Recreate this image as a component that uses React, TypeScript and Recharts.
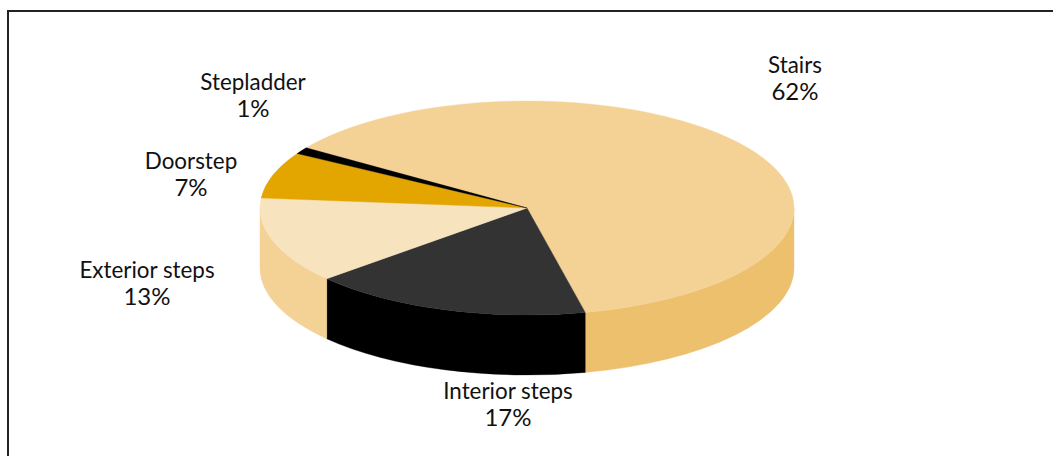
import { PieChart, Pie, Cell } from 'recharts';

const categories = ['Stairs', 'Interior steps', 'Exterior steps', 'Doorstep', 'Stepladder'];
const shares = [62, 17, 13, 7, 1];
const topColors = ['#f4d295', '#333333', '#f8e3bf', '#e3a500', '#000000'];
const sideColors = ['#edc06e', '#000000', '#f4d295', '#c48e00', '#000000'];

const data = categories.map((name, i) => ({ name, value: shares[i] }));

// label centres, the chart library has no placement that gives these
const labelSpots = [
  [795, 65],
  [508, 391],
  [147, 270],
  [191, 161],
  [253, 82],
];

const TILT = 107 / 267;
const DEPTH = 60;
const FONT = 'Lato, sans-serif';

const pt = (cx: number, cy: number, r: number, deg: number) => {
  const a = (deg * Math.PI) / 180;
  return [cx + r * Math.cos(a), cy - r * TILT * Math.sin(a)];
};

function TopSlice(props: any) {
  const { cx, cy, outerRadius: r, startAngle, endAngle, fill } = props;
  const [x1, y1] = pt(cx, cy, r, startAngle);
  const [x2, y2] = pt(cx, cy, r, endAngle);
  const large = Math.abs(startAngle - endAngle) > 180 ? 1 : 0;
  const d = `M${cx},${cy}L${x1},${y1}A${r},${r * TILT} 0 ${large} 1 ${x2},${y2}Z`;
  return <path d={d} fill={fill} stroke={fill} strokeWidth={0.4} />;
}

// only the front half of the rim can be seen
function SideSlice(props: any) {
  const { cx, cy, outerRadius: r, startAngle, endAngle, fill } = props;
  const hi = Math.min(startAngle, 0);
  const lo = Math.max(endAngle, -180);
  if (hi <= lo) return null;
  const [x1, y1] = pt(cx, cy, r, hi);
  const [x2, y2] = pt(cx, cy, r, lo);
  const ry = r * TILT;
  const d = `M${x1},${y1}A${r},${ry} 0 0 1 ${x2},${y2}L${x2},${y2 + DEPTH}A${r},${ry} 0 0 0 ${x1},${y1 + DEPTH}Z`;
  return <path d={d} fill={fill} stroke={fill} strokeWidth={0.4} />;
}

function SliceLabel(props: any) {
  const { index, name, value } = props;
  const [x, y] = labelSpots[index];
  return (
    <text x={x} textAnchor="middle" fontFamily={FONT} fontSize={22.4} fill="#111">
      <tspan x={x} y={y + 8}>{name}</tspan>
      <tspan x={x} y={y + 35} fontSize={24}>{`${value}%`}</tspan>
    </text>
  );
}

export default function App() {
  return (
    <div style={{ position: 'fixed', left: 0, top: 0, width: 1053, height: 456, overflow: 'hidden', background: '#fff' }}>
      <div style={{ position: 'absolute', left: 7, top: 10, width: 1100, height: 500, borderTop: '2px solid #222', borderLeft: '2px solid #222' }} />
      <div style={{ position: 'absolute', left: 0, top: 0 }}>
        <PieChart width={1053} height={456} margin={{ top: 0, right: 0, bottom: 0, left: 0 }}>
          <Pie
            data={data}
            dataKey="value"
            cx={527}
            cy={208}
            outerRadius={267}
            startAngle={145.8}
            endAngle={-214.2}
            isAnimationActive={false}
            shape={SideSlice}
            stroke="none"
          >
            {data.map((d, i) => <Cell key={d.name} fill={sideColors[i]} />)}
          </Pie>
          <Pie
            data={data}
            dataKey="value"
            cx={527}
            cy={208}
            outerRadius={267}
            startAngle={145.8}
            endAngle={-214.2}
            isAnimationActive={false}
            shape={TopSlice}
            stroke="none"
            label={SliceLabel}
            labelLine={false}
          >
            {data.map((d, i) => <Cell key={d.name} fill={topColors[i]} />)}
          </Pie>
        </PieChart>
      </div>
    </div>
  );
}
